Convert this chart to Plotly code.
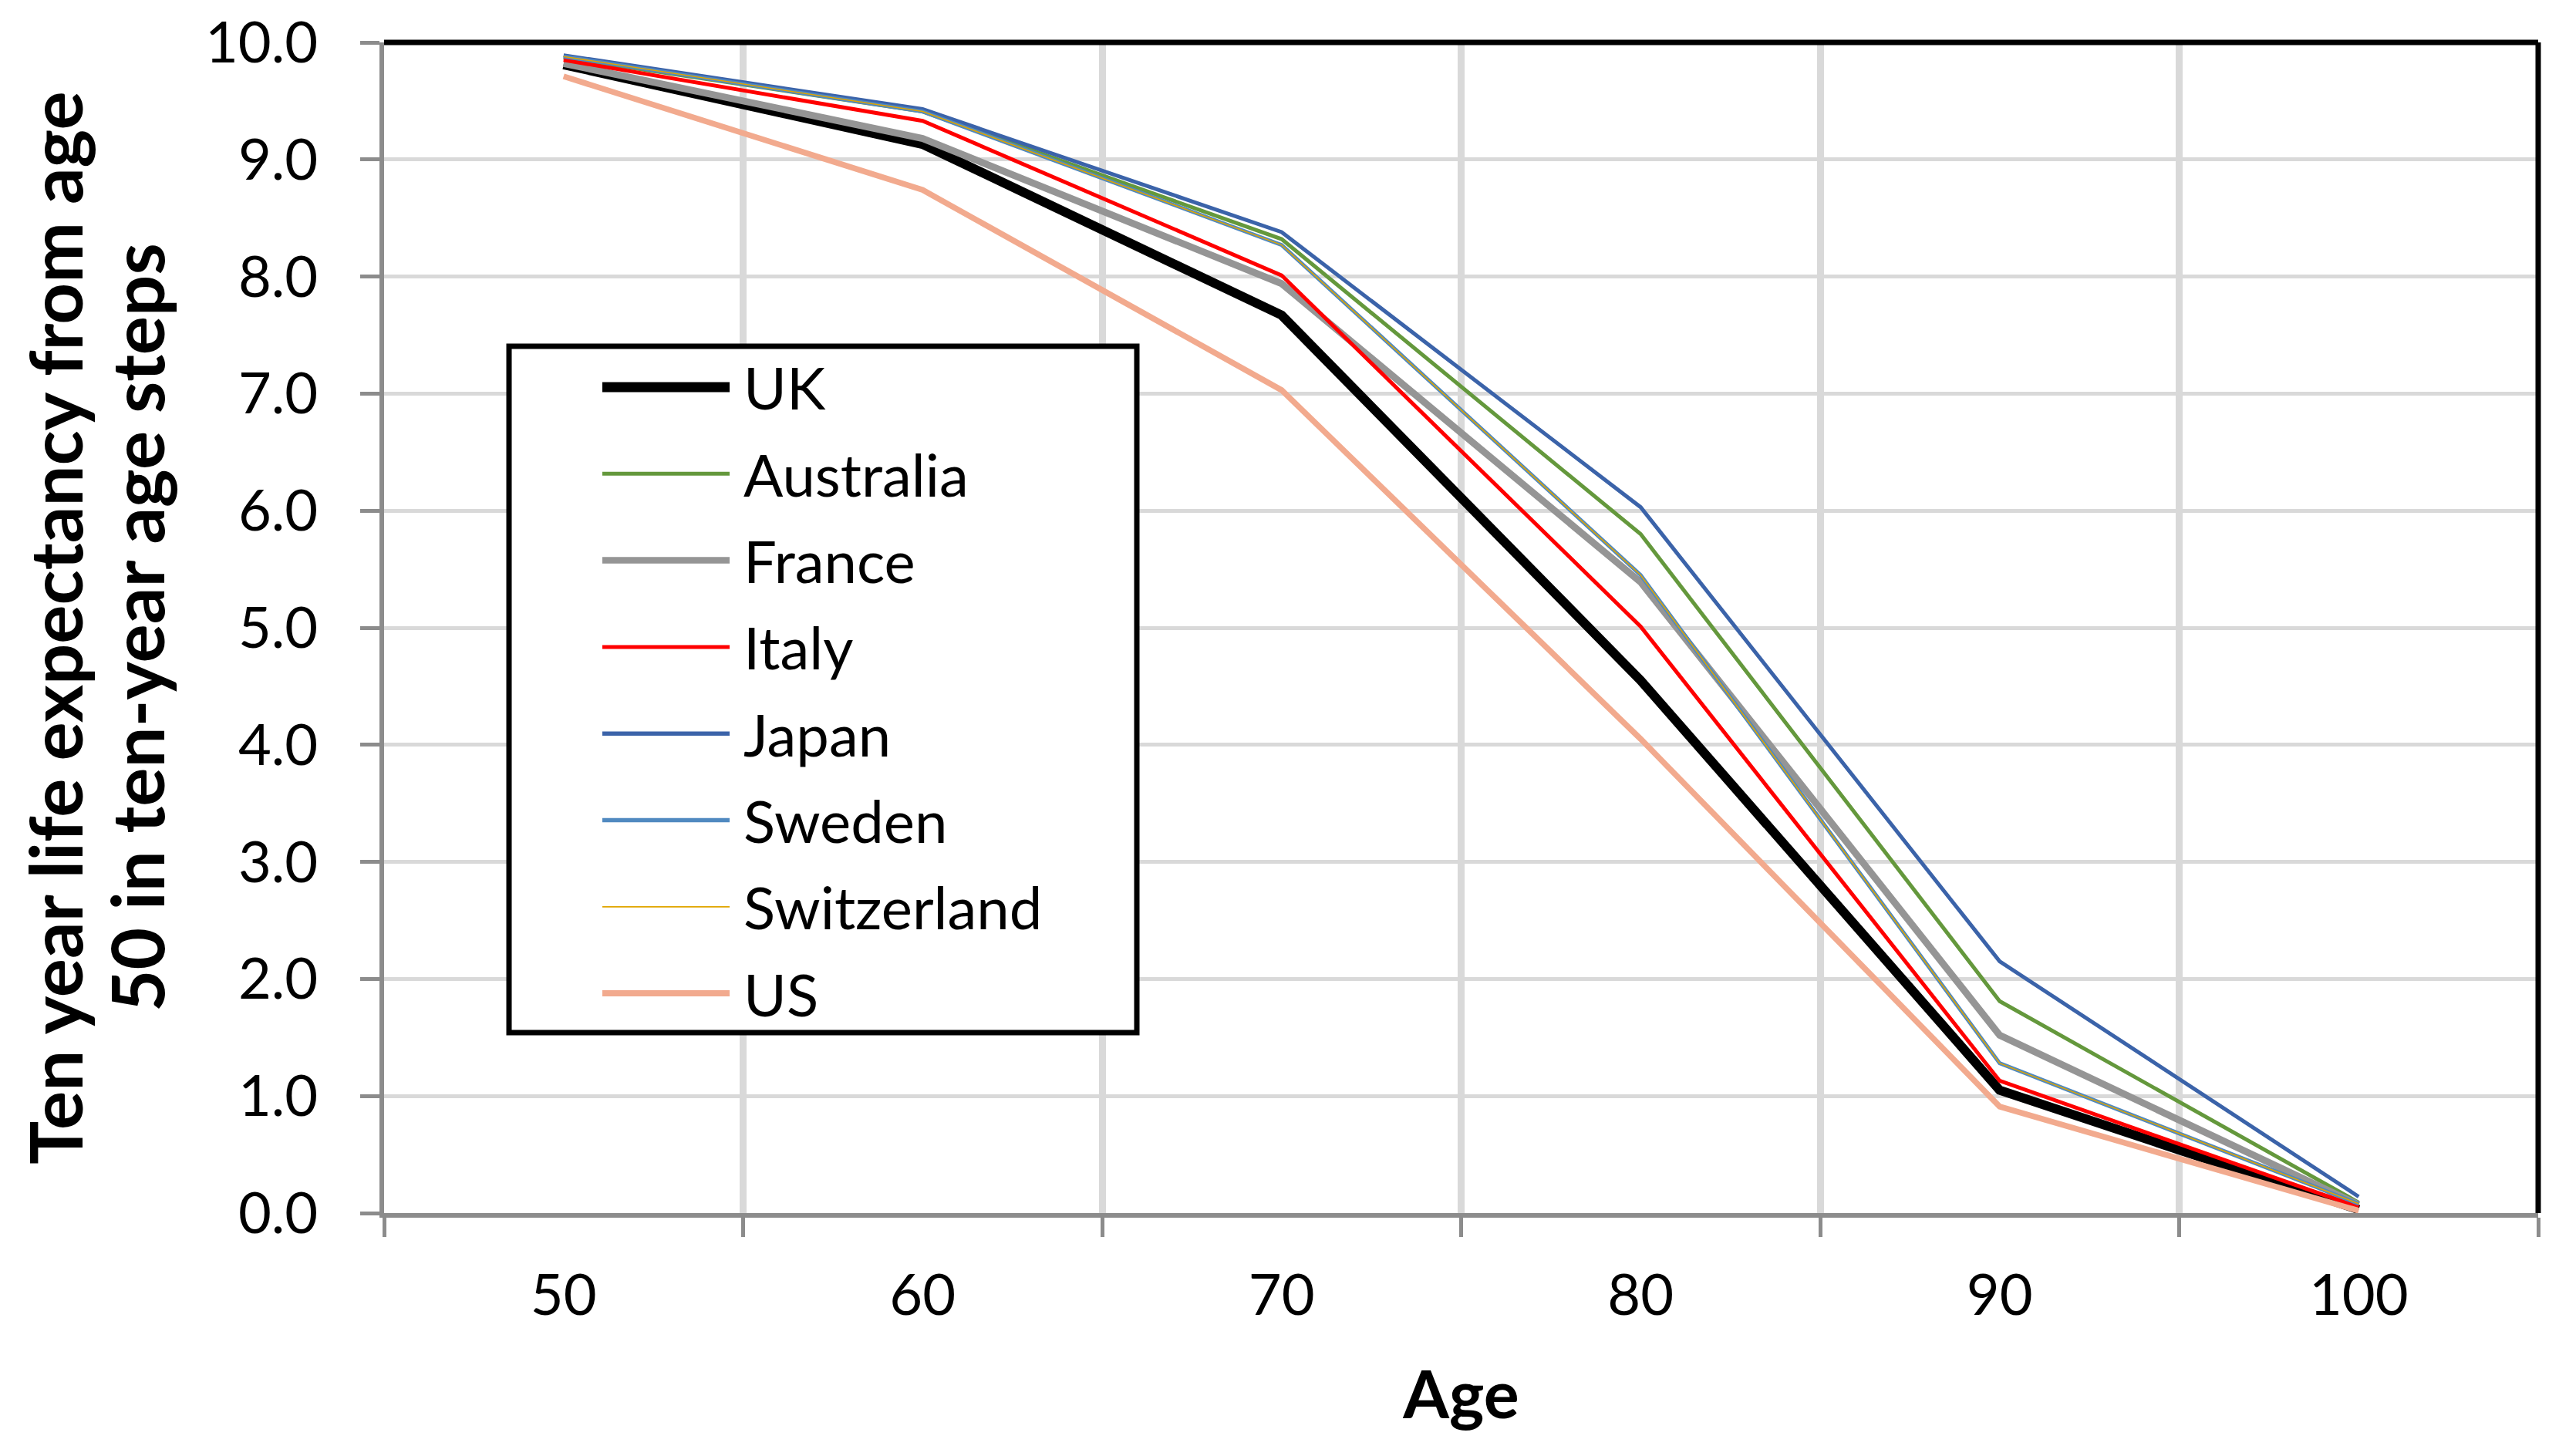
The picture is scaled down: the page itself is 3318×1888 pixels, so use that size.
import plotly.graph_objects as go

# ---- data ----
ages = ["50", "60", "70", "80", "90", "100"]
countries = ["UK", "Australia", "France", "Italy", "Japan", "Sweden", "Switzerland", "US"]
uk = [9.81, 9.13, 7.67, 4.55, 1.05, 0.03]
australia = [9.87, 9.41, 8.32, 5.80, 1.81, 0.09]
france = [9.82, 9.18, 7.94, 5.39, 1.52, 0.07]
italy = [9.85, 9.33, 8.01, 5.01, 1.13, 0.05]
japan = [9.89, 9.43, 8.38, 6.03, 2.15, 0.14]
sweden = [9.88, 9.41, 8.27, 5.45, 1.28, 0.08]
switzerland = [9.88, 9.41, 8.27, 5.45, 1.28, 0.08]
us = [9.71, 8.74, 7.03, 4.05, 0.91, 0.02]
y_ticks = [0, 1, 2, 3, 4, 5, 6, 7, 8, 9, 10]
y_title_lines = ["Ten year life expectancy from age", "50 in ten-year age steps"]
x_title = "Age"

series = [uk, australia, france, italy, japan, sweden, switzerland, us]

# ---- styles ----
colors = ["#000000", "#64983C", "#959595", "#FF0000", "#3B63A9", "#5089C0", "#E0A500", "#F2AA8E"]
widths = [12, 5, 9, 5, 5, 5, 1.6, 7.5]
legend_widths = [13, 5, 8.5, 5, 5.5, 5.5, 1.7, 8]

W, H = 3318, 1888
L, R, T, B = 498, 27, 55, 315
PW, PH = W - L - R, H - T - B


def px_x(p):
    return (p - L) / PW


def px_y(p):
    return (H - B - p) / PH


fig = go.Figure()
for name, vals, c, w in zip(countries, series, colors, widths):
    fig.add_trace(go.Scatter(
        x=ages, y=vals, mode="lines", name=name,
        line=dict(color=c, width=w), showlegend=False,
    ))

# ---- plot border + custom legend (box, line samples, labels) ----
shapes = [
    dict(type="line", xref="paper", yref="paper", x0=0, x1=1, y0=1, y1=1,
         line=dict(color="black", width=7), layer="above"),
    dict(type="line", xref="paper", yref="paper", x0=1, x1=1, y0=0, y1=1,
         line=dict(color="black", width=7), layer="above"),
    dict(type="rect", xref="paper", yref="paper",
         x0=px_x(660), x1=px_x(1474), y0=px_y(1339), y1=px_y(449),
         line=dict(color="black", width=7), fillcolor="white", layer="above"),
]
annotations = []
for i, (name, c, w) in enumerate(zip(countries, colors, legend_widths)):
    yy = px_y(502 + 112.3 * i)
    shapes.append(dict(type="line", xref="paper", yref="paper",
                       x0=px_x(781), x1=px_x(946), y0=yy, y1=yy,
                       line=dict(color=c, width=w), layer="above"))
    annotations.append(dict(xref="paper", yref="paper", x=px_x(962), y=yy,
                            xanchor="left", yanchor="middle", showarrow=False,
                            text=name, font=dict(family="Lato", size=76, color="black")))

# ---- y-axis title (two rotated lines) ----
for text, cx in zip(y_title_lines, [70, 176]):
    annotations.append(dict(xref="paper", yref="paper", x=px_x(cx), y=0.5,
                            xanchor="center", yanchor="middle", showarrow=False,
                            textangle=-90, text="<b>" + text + "</b>",
                            font=dict(family="Lato", size=94, color="black")))

fig.update_layout(
    width=W, height=H,
    margin=dict(l=L, r=R, t=T, b=B, autoexpand=False),
    paper_bgcolor="white", plot_bgcolor="white",
    font=dict(family="Lato", color="black"),
    showlegend=False,
    shapes=shapes, annotations=annotations,
    xaxis=dict(
        type="category", tickson="boundaries", range=[-0.5, 5.5],
        showgrid=True, gridcolor="#D9D9D9", gridwidth=9,
        showline=True, linecolor="#8C8C8C", linewidth=6,
        ticks="outside", ticklen=25, tickwidth=5, tickcolor="#8C8C8C",
        tickfont=dict(family="Lato", size=74, color="black"),
        ticklabelstandoff=37, zeroline=False,
        title=dict(text="<b>" + x_title + "</b>", font=dict(family="Lato", size=86, color="black"), standoff=61),
    ),
    yaxis=dict(
        range=[0, 10], tickmode="array", tickvals=y_ticks, tickformat=".1f",
        showgrid=True, gridcolor="#D9D9D9", gridwidth=4.5,
        showline=True, linecolor="#8C8C8C", linewidth=6,
        ticks="outside", ticklen=25, tickwidth=4.5, tickcolor="#8C8C8C",
        tickfont=dict(family="Lato", size=74, color="black"),
        ticklabelstandoff=40, zeroline=False,
    ),
)

# remove the browser's default 8px body margin so the figure fills the window exactly
fig.write_html("out.html", config={"displayModeBar": False},
               post_script="document.body.style.margin='0px';")
